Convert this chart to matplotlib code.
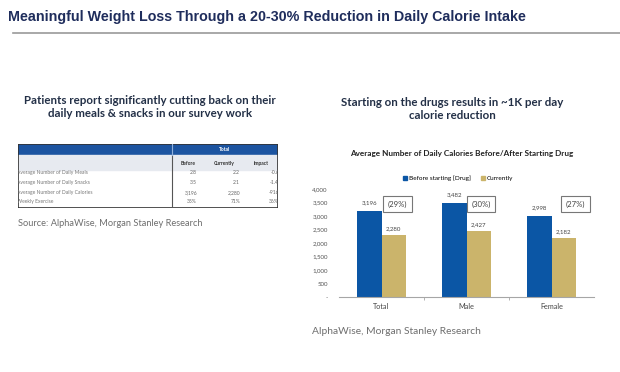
"""Slide: weight loss through reduction in daily calorie intake."""

import matplotlib.pyplot as plt
from matplotlib.lines import Line2D
from matplotlib.patches import Rectangle

# survey table
table_rows = [
    "Average Number of Daily Meals",
    "Average Number of Daily Snacks",
    "Average Number of Daily Calories",
    "Weekly Exercise",
]
table_before = ["2.8", "3.5", "3,196", "35%"]
table_currently = ["2.2", "2.1", "2,280", "71%"]
table_impact = ["-0.6", "-1.4", "-916", "36%"]
table_columns = ["Before", "Currently", "Impact"]

# bar chart
categories = ["Total", "Male", "Female"]
before = [3196, 3482, 2998]
currently = [2280, 2427, 2182]
y_ticks = [0, 500, 1000, 1500, 2000, 2500, 3000, 3500, 4000]

NAVY = "#1f2d5c"
BLUE = "#0b56a5"
GOLD = "#cbb46b"
W, H = 620, 372


def frac(x0, y0, x1, y1):
    """Pixel box (top-left origin) to figure fraction rect."""
    return [x0 / W, 1 - y1 / H, (x1 - x0) / W, (y1 - y0) / H]


fig = plt.figure(figsize=(6.2, 3.72), dpi=100)
fig.patch.set_facecolor("white")

page = fig.add_axes([0, 0, 1, 1])
page.set_xlim(0, W)
page.set_ylim(H, 0)
page.axis("off")

page.text(8, 17, "Meaningful Weight Loss Through a 20-30% Reduction in Daily Calorie Intake",
          family="Liberation Sans", weight="bold", fontsize=10.3, color=NAVY, va="center")
page.plot([13, 620], [33, 33], color="#9a9a9a", lw=1.2)
page.text(150, 107, "Patients report significantly cutting back on their\ndaily meals & snacks in our survey work",
          family="Lato", weight="bold", fontsize=8.3, color="#233047", ha="center", va="center",
          linespacing=1.15)
page.text(452, 109, "Starting on the drugs results in ~1K per day\ncalorie reduction",
          family="Lato", weight="bold", fontsize=8.3, color="#233047", ha="center", va="center",
          linespacing=1.15)
page.text(18, 223, "Source: AlphaWise, Morgan Stanley Research",
          family="Lato", fontsize=6.7, color="#6e6e6e", va="center")
page.text(312, 332, "AlphaWise, Morgan Stanley Research",
          family="Lato", fontsize=7.4, color="#6e6e6e", va="center")

# table drawn in its own pixel-space axes so the right column clips
tab = fig.add_axes(frac(18, 144, 278, 208))
tab.set_xlim(18, 278)
tab.set_ylim(208, 144)
tab.axis("off")
tab.add_patch(Rectangle((18, 144), 260, 11, color="#1c54a0", clip_on=True))
tab.add_patch(Rectangle((18, 155), 260, 15, color="#e7eaf0", clip_on=True))
tab.add_patch(Rectangle((18, 144), 260, 64, fill=False, ec="#333333", lw=1.2))
tab.plot([172, 172], [144, 208], color="#555555", lw=0.8)
tab.plot([172, 172], [144, 155], color="#8fb0dd", lw=0.8)
tab.text(225, 150, "Total", fontsize=3.6, weight="bold", color="white", ha="center", va="center",
         family="Lato")
header_x = [188, 224, 261]
for x, name in zip(header_x, table_columns):
    tab.text(x, 164, name, fontsize=3.6, weight="bold", color="#333333", ha="center",
             va="center", family="Lato")
row_y = [173, 183, 193, 202]
value_right = [197, 240, 279]
for y, label, b, c, i in zip(row_y, table_rows, table_before, table_currently, table_impact):
    tab.text(17, y, label, fontsize=3.6, color="#777777", va="center", family="Lato", clip_on=True)
    for x, v in zip(value_right, (b, c, i)):
        tab.text(x, y, v, fontsize=3.6, color="#666666", ha="right", va="center",
                 family="Lato", clip_on=True)

# bar chart
ax = fig.add_axes(frac(339, 189, 594, 297))
pos = range(len(categories))
bw = 0.285
ax.bar([p - bw / 2 for p in pos], before, width=bw, color=BLUE, label="Before starting [Drug]")
ax.bar([p + bw / 2 for p in pos], currently, width=bw, color=GOLD, label="Currently")
ax.set_xlim(-0.5, 2.5)
ax.set_ylim(0, 4000)
ax.set_yticks(y_ticks)
ax.set_yticklabels(["-" if t == 0 else f"{t:,}" for t in y_ticks])
ax.set_xticks(list(pos))
ax.set_xticklabels(categories)
ax.set_xticks([0.5, 1.5], minor=True)
ax.tick_params(axis="y", length=0, pad=8, labelsize=4.4, labelcolor="#555555")
ax.tick_params(axis="x", which="major", length=0, pad=4, labelsize=5.2, labelcolor="#444444")
ax.tick_params(axis="x", which="minor", length=2, color="#a6a6a6", direction="out")
for tl in ax.get_xticklabels() + ax.get_yticklabels():
    tl.set_family("Lato")
for side in ("left", "right", "top"):
    ax.spines[side].set_visible(False)
ax.spines["bottom"].set_color("#a6a6a6")
ax.spines["bottom"].set_linewidth(0.8)
ax.set_facecolor("none")

box_shift = [0.19, 0.17, 0.28]
for p, b, c, s in zip(pos, before, currently, box_shift):
    ax.annotate(f"{b:,}", (p - bw / 2, b), xytext=(0, 4), textcoords="offset points",
                ha="center", va="bottom", fontsize=4.4, color="#444444", family="Lato")
    ax.annotate(f"{c:,}", (p + bw / 2, c), xytext=(0, 3), textcoords="offset points",
                ha="center", va="bottom", fontsize=4.4, color="#444444", family="Lato")
    pct = round((b - c) / b * 100)
    ax.text(p + s, 3440, f"({pct}%)", ha="center", va="center", fontsize=5.6, color="#444444",
            family="Lato",
            bbox=dict(boxstyle="square,pad=0.6", fc="white", ec="#777777", lw=0.8))

fig.text(462 / W, 1 - 153 / H, "Average Number of Daily Calories Before/After Starting Drug",
         ha="center", va="center", fontsize=5.9, weight="bold", color="#222222", family="Lato")
handles = [Line2D([], [], marker="s", ls="", color=BLUE, markersize=2.6),
           Line2D([], [], marker="s", ls="", color=GOLD, markersize=2.6)]
fig.legend(handles, ["Before starting [Drug]", "Currently"], loc="center",
           bbox_to_anchor=(458 / W, 1 - 178 / H), ncol=2, frameon=False,
           prop={"family": "Lato", "size": 4.6}, handletextpad=0.2, columnspacing=1.5,
           handlelength=0.8)

fig.savefig("out.png", dpi=100, facecolor="white")
plt.close(fig)
